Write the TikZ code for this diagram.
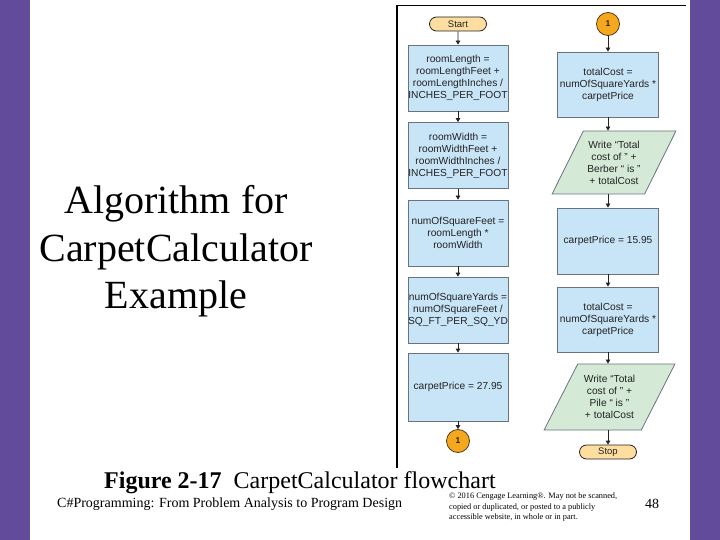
\documentclass[tikz,border=0pt]{standalone}
\usepackage{fontspec}
\setmainfont{Liberation Serif}
\newfontfamily\arialf{Liberation Sans}
\usetikzlibrary{shapes.geometric,shapes.misc,arrows.meta}
\definecolor{slidepurple}{RGB}{99,75,155}
\definecolor{boxblue}{RGB}{200,228,247}
\definecolor{boxedge}{RGB}{105,115,125}
\definecolor{iogreen}{RGB}{212,234,214}
\definecolor{termfill}{RGB}{253,222,160}
\definecolor{connfill}{RGB}{245,168,30}
\definecolor{flowtext}{RGB}{35,35,35}
\begin{document}
\begin{tikzpicture}[x=1pt,y=-1pt,
  flowfont/.style={font=\arialf\fontsize{10.2}{12}\selectfont},
  procbox/.style={draw=boxedge, line width=0.8pt, fill=boxblue, minimum width=100pt,
    minimum height=66pt, inner sep=0pt, align=center, text=flowtext, flowfont},
  iobox/.style={trapezium, trapezium left angle=58, trapezium right angle=122,
    trapezium stretches=true, draw=boxedge, line width=0.8pt, fill=iogreen,
    minimum width=129pt, minimum height=64pt, inner sep=0pt, align=center,
    text=flowtext, flowfont},
  termbox/.style={rounded rectangle, draw=flowtext, line width=0.8pt, fill=termfill,
    minimum width=57pt, minimum height=14pt, inner sep=0pt, text=flowtext,
    font=\arialf\fontsize{9.5}{10}\selectfont},
  connbox/.style={circle, draw=flowtext!80!connfill, line width=0.8pt, fill=connfill,
    minimum size=23pt, inner sep=0pt, text=flowtext,
    font=\arialf\bfseries\fontsize{8.5}{9}\selectfont},
  flowarrow/.style={draw=flowtext, line width=0.8pt, -{Triangle[length=4pt,width=4.5pt]}},
  slidetext/.style={text=black, inner sep=0pt},
]
\useasboundingbox (0,0) rectangle (720,540);
\fill[white] (0,0) rectangle (720,540);
\fill[slidepurple] (0,0) rectangle (30,540);
\fill[slidepurple] (690,0) rectangle (720,540);

% frame of the figure
\draw[line width=1.2pt, black] (397,468) -- (397,5.5) -- (686,5.5);

% title
\node[slidetext, anchor=base, font=\fontsize{40}{47}\selectfont] (t1) at (176,214) {Algorithm for};
\node[slidetext, anchor=base, font=\fontsize{40}{47}\selectfont] (t2) at (176,261) {CarpetCalculator};
\node[slidetext, anchor=base, font=\fontsize{40}{47}\selectfont] (t3) at (176,308) {Example};

% left column
\node[termbox] (start) at (458,24) {Start};
\node[procbox] (l1) at (458,78) {roomLength =\\ roomLengthFeet +\\ roomLengthInches /\\ INCHES\_PER\_FOOT};
\node[procbox] (l2) at (458,155.5) {roomWidth =\\ roomWidthFeet +\\ roomWidthInches /\\ INCHES\_PER\_FOOT};
\node[procbox] (l3) at (458,233) {numOfSquareFeet =\\ roomLength *\\ roomWidth};
\node[procbox] (l4) at (458,310) {numOfSquareYards =\\ numOfSquareFeet /\\ SQ\_FT\_PER\_SQ\_YD};
\node[procbox, minimum height=68pt] (l5) at (458,387) {carpetPrice = 27.95};
\node[connbox] (c1) at (458,441) {1};

% right column
\node[connbox] (c2) at (608,24) {1};
\node[procbox, minimum width=101pt, minimum height=65pt] (r1) at (608,84.5) {totalCost =\\ numOfSquareYards *\\ carpetPrice};
\node[iobox, minimum width=124pt, minimum height=63pt] (p1) at (614,162.5) {Write “Total\\ cost of ” +\\ Berber “ is ”\\ + totalCost};
\node[procbox, minimum width=101pt] (r2) at (608,241) {carpetPrice = 15.95};
\node[procbox, minimum width=101pt, minimum height=65pt] (r3) at (608,319.5) {totalCost =\\ numOfSquareYards *\\ carpetPrice};
\node[iobox, minimum width=131pt, minimum height=66pt] (p2) at (609.5,397) {Write “Total\\ cost of ” +\\ Pile “ is ”\\ + totalCost};
\node[termbox] (stop) at (608,452) {Stop};

% connectors
\draw[flowarrow] (start) -- (l1);
\draw[flowarrow] (l1) -- (l2);
\draw[flowarrow] (l2) -- (l3);
\draw[flowarrow] (l3) -- (l4);
\draw[flowarrow] (l4) -- (l5);
\draw[flowarrow] (l5) -- (c1);
\draw[flowarrow] (c2) -- (r1);
\draw[flowarrow] (r1.south) -- (r1.south |- p1.north);
\draw[flowarrow] (r1.south |- p1.south) -- (r2.north);
\draw[flowarrow] (r2) -- (r3);
\draw[flowarrow] (r3.south) -- (r3.south |- p2.north);
\draw[flowarrow] (r3.south |- p2.south) -- (stop.north);

% caption and footer
\node[slidetext, anchor=base west, font=\fontsize{24}{28}\selectfont] (cap) at (104,488)
  {\textbf{Figure 2-17}\ \ CarpetCalculator flowchart};
\node[slidetext, anchor=base west, font=\fontsize{14}{16}\selectfont] (foot) at (57,507)
  {C\#Programming: From Problem Analysis to Program Design};
\node[slidetext, anchor=north west, align=left, font=\fontsize{8.3}{10.3}\selectfont] (copy) at (449,493)
  {© 2016 Cengage Learning®. May not be scanned,\\ copied or duplicated, or posted to a publicly\\ accessible website, in whole or in part.};
\node[slidetext, anchor=base west, font=\fontsize{14}{16}\selectfont] (page) at (645,508) {48};
\end{tikzpicture}
\end{document}
